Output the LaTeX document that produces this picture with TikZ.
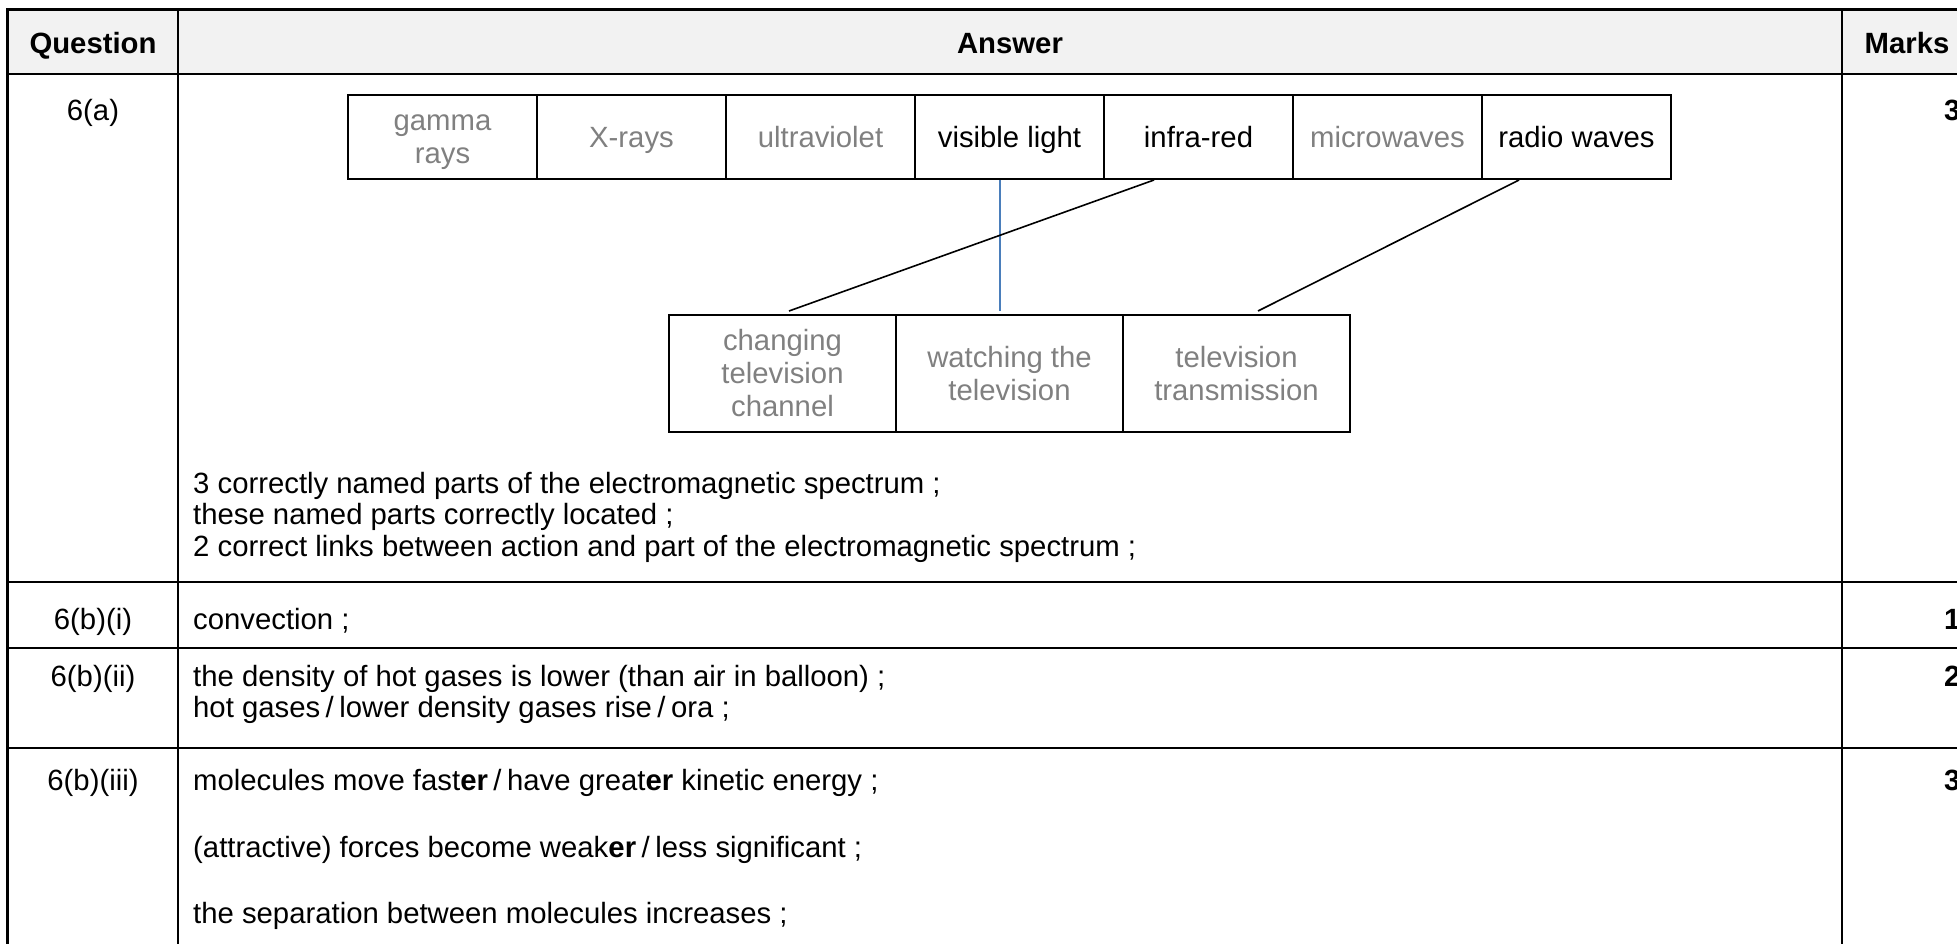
\documentclass[tikz,border=0pt]{standalone}
\usepackage{fontspec}
\setmainfont{Liberation Sans}
\definecolor{txtgray}{RGB}{128,128,128}
\definecolor{headfill}{RGB}{242,242,242}
\definecolor{linkblue}{RGB}{74,126,187}
\newcommand{\lnstrut}{\rule[-6.2pt]{0pt}{32.7pt}}
\newcommand{\slsh}{\hspace{5.5pt}/\hspace{5.5pt}}
\begin{document}
\begin{tikzpicture}[x=1pt,y=-1pt,
  rule/.style={line width=2.2pt},
  body/.style={font=\fontsize{29.3}{32}\selectfont, inner sep=0pt},
  hd/.style={font=\fontsize{29.3}{32}\selectfont\bfseries, inner sep=0pt, anchor=base},
  lbl/.style={body, anchor=base},
  ans/.style={body, anchor=base west},
  mk/.style={font=\fontsize{29.3}{32}\selectfont\bfseries, inner sep=0pt, anchor=base west},
  band/.style={draw, line width=2pt, minimum width=189pt, minimum height=84pt, inner sep=0pt, align=center, font=\fontsize{29.3}{32.7}\selectfont},
  use/.style={draw, line width=2pt, minimum width=227pt, minimum height=117pt, inner sep=0pt, align=center, font=\fontsize{29.3}{32.7}\selectfont},
  dim/.style={text=txtgray},
  link/.style={line width=1.6pt},
]
\useasboundingbox (0,0) rectangle (1957,943);
\clip (0,0) rectangle (1957,943);
% table
\fill[headfill] (7.5,9.5) rectangle (1990,74);
\foreach \yy in {9.5,74,582,648,748}
  \draw[rule] (6.4,\yy) -- (1990,\yy);
\foreach \xx in {7.5,178,1842}
  \draw[rule] (\xx,8.4) -- (\xx,960);
% header
\node[hd] (hq) at (93,53) {Question};
\node[hd] (ha) at (1010,53) {Answer};
\node[hd] (hm) at (1907,53) {Marks};
% question labels
\node[lbl] (q1) at (93,120) {6(a)};
\node[lbl] (q2) at (93,629) {6(b)(i)};
\node[lbl] (q3) at (93,686) {6(b)(ii)};
\node[lbl] (q4) at (93,790) {6(b)(iii)};
% marks
\node[mk] (m1) at (1944,120) {3};
\node[mk] (m2) at (1944,629) {1};
\node[mk] (m3) at (1944,686) {2};
\node[mk] (m4) at (1944,790) {3};
% spectrum boxes
\node[band,dim] (gam) at (442.5,137) {\lnstrut gamma\\\lnstrut rays};
\node[band,dim] (xr) at (631.5,137) {\lnstrut X-rays};
\node[band,dim] (uv) at (820.5,137) {\lnstrut ultraviolet};
\node[band] (vis) at (1009.5,137) {\lnstrut visible light};
\node[band] (ir) at (1198.5,137) {\lnstrut infra-red};
\node[band,dim] (mw) at (1387.5,137) {\lnstrut microwaves};
\node[band] (rad) at (1576.5,137) {\lnstrut radio waves};
% uses
\node[use,dim] (chg) at (782.5,373.5) {\lnstrut changing\\\lnstrut television\\\lnstrut channel};
\node[use,dim] (watch) at (1009.5,373.5) {\lnstrut watching the\\\lnstrut television};
\node[use,dim] (trans) at (1236.5,373.5) {\lnstrut television\\\lnstrut transmission};
% links
\draw[link, linkblue] ([xshift=-9.5pt]vis.south) -- ([xshift=-9.5pt,yshift=3pt]watch.north);
\draw[link] ([xshift=-44.5pt]ir.south) -- ([xshift=6.5pt,yshift=3pt]chg.north);
\draw[link] ([xshift=-57.5pt]rad.south) -- ([xshift=21.5pt,yshift=3pt]trans.north);
% answers
\node[ans] (a1) at (193,493) {3 correctly named parts of the electromagnetic spectrum ;};
\node[ans] (a2) at (193,524.5) {these named parts correctly located ;};
\node[ans] (a3) at (193,556) {2 correct links between action and part of the electromagnetic spectrum ;};
\node[ans] (b1) at (193,629) {convection ;};
\node[ans] (c1) at (193,686) {the density of hot gases is lower (than air in balloon) ;};
\node[ans] (c2) at (193,717) {hot gases\slsh lower density gases rise\slsh ora ;};
\node[ans] (d1) at (193,790) {molecules move fast\textbf{er}\slsh have great\textbf{er} kinetic energy ;};
\node[ans] (d2) at (193,857) {(attractive) forces become weak\textbf{er}\slsh less significant ;};
\node[ans] (d3) at (193,923) {the separation between molecules increases ;};
\end{tikzpicture}
\end{document}
